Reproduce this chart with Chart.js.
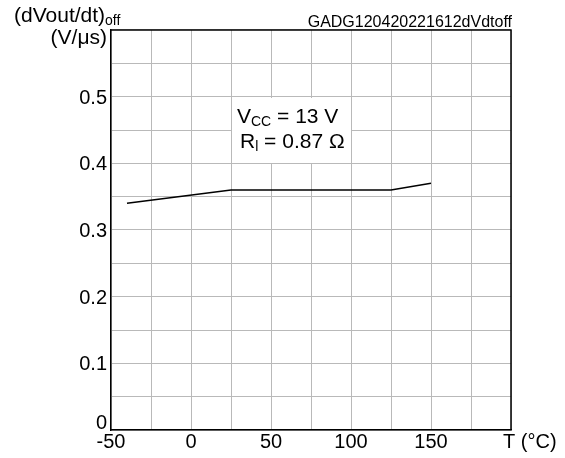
<!DOCTYPE html>
<html>
<head>
<meta charset="utf-8">
<script src="https://cdn.jsdelivr.net/npm/chart.js@4/dist/chart.umd.min.js"></script>
<style>
  html, body { margin: 0; padding: 0; background: #fff; }
  #wrap { width: 565px; height: 458px; }
</style>
</head>
<body>
<div id="wrap"><canvas id="chart"></canvas></div>
<script>
// data
const temps = [-40, 25, 125, 150];
const slewOff = [0.34, 0.36, 0.36, 0.37];
const xLabels = [-50, 0, 50, 100, 150];
const yLabels = [0, 0.1, 0.2, 0.3, 0.4, 0.5];

const FONT = "'Liberation Sans', Arial, sans-serif";

// draw a string, returns the x where it ends
function text(ctx, str, x, y, size, align) {
    ctx.font = size + "px " + FONT;
    const w = ctx.measureText(str).width;
    let left = x;
    if (align === "right") left = x - w;
    if (align === "center") left = x - w / 2;
    ctx.textAlign = "left";
    ctx.textBaseline = "alphabetic";
    ctx.fillText(str, left, y);
    return left + w;
}

const extras = {
    id: "extras",
    beforeDatasetsDraw(chart) {
        const ctx = chart.ctx;
        const xs = chart.scales.x, ys = chart.scales.y;
        // white box for the conditions text
        const l = Math.round(xs.getPixelForValue(25)) + 1;
        const r = Math.round(xs.getPixelForValue(100));
        const t = Math.round(ys.getPixelForValue(0.5)) + 1;
        const b = Math.round(ys.getPixelForValue(0.4));
        ctx.save();
        ctx.fillStyle = "#fff";
        ctx.fillRect(l, t, r - l, b - t);
        ctx.restore();
    },
    afterDraw(chart) {
        const ctx = chart.ctx;
        const area = chart.chartArea;
        const xs = chart.scales.x, ys = chart.scales.y;
        ctx.save();
        ctx.fillStyle = "#000";

        // frame on top and right
        ctx.strokeStyle = "#000";
        ctx.lineWidth = 1.5;
        ctx.beginPath();
        ctx.moveTo(area.left, area.top);
        ctx.lineTo(area.right, area.top);
        ctx.lineTo(area.right, area.bottom);
        ctx.stroke();

        // tick labels
        xLabels.forEach(v => text(ctx, String(v), xs.getPixelForValue(v), 448, 20, "center"));
        yLabels.forEach(v => {
            const py = ys.getPixelForValue(v);
            text(ctx, String(v), area.left - 4, v === 0 ? py - 1 : py + 7, 20, "right");
        });

        // axis titles
        let x = text(ctx, "(dVout/dt)", 14, 22, 21, "left");
        text(ctx, "off", x, 25, 14, "left");
        text(ctx, "(V/\u03BCs)", area.left - 4, 44, 21, "right");
        text(ctx, "T (\u00B0C)", 503, 448, 20, "left");

        // figure code
        text(ctx, "GADG120420221612dVdtoff", area.right + 1, 27, 16, "right");

        // conditions
        x = text(ctx, "V", 237, 123, 21, "left");
        x = text(ctx, "CC", x, 126, 14, "left");
        text(ctx, " = 13 V", x, 123, 21, "left");
        x = text(ctx, "R", 240, 148, 21, "left");
        x = text(ctx, "l", x, 151, 14, "left");
        text(ctx, " = 0.87 \u03A9", x, 148, 21, "left");

        ctx.restore();
    }
};

new Chart(document.getElementById("chart"), {
    type: "line",
    data: {
        datasets: [{
            data: temps.map((t, i) => ({ x: t, y: slewOff[i] })),
            borderColor: "#000",
            borderWidth: 1.5,
            pointRadius: 0,
            tension: 0,
            fill: false
        }]
    },
    options: {
        responsive: true,
        maintainAspectRatio: false,
        animation: false,
        events: [],
        layout: { padding: { left: 0, top: 30, right: 54, bottom: 0 } },
        plugins: {
            legend: { display: false },
            tooltip: { enabled: false }
        },
        scales: {
            x: {
                type: "linear",
                min: -50,
                max: 200,
                afterBuildTicks: s => { s.ticks = []; for (let v = -50; v <= 200; v += 25) s.ticks.push({ value: v }); },
                afterFit: s => { s.height = 28; },
                grid: { color: "#b9b9b9", lineWidth: 1, drawTicks: false },
                border: { color: "#000", width: 1.5 },
                ticks: { display: false } // labels drawn in the plugin
            },
            y: {
                min: 0,
                max: 0.6,
                afterBuildTicks: s => { s.ticks = []; for (let i = 0; i <= 12; i++) s.ticks.push({ value: i * 0.05 }); },
                afterFit: s => { s.width = 111; },
                grid: { color: "#b9b9b9", lineWidth: 1, drawTicks: false },
                border: { color: "#000", width: 1.5 },
                ticks: { display: false }
            }
        }
    },
    plugins: [extras]
});
</script>
</body>
</html>
